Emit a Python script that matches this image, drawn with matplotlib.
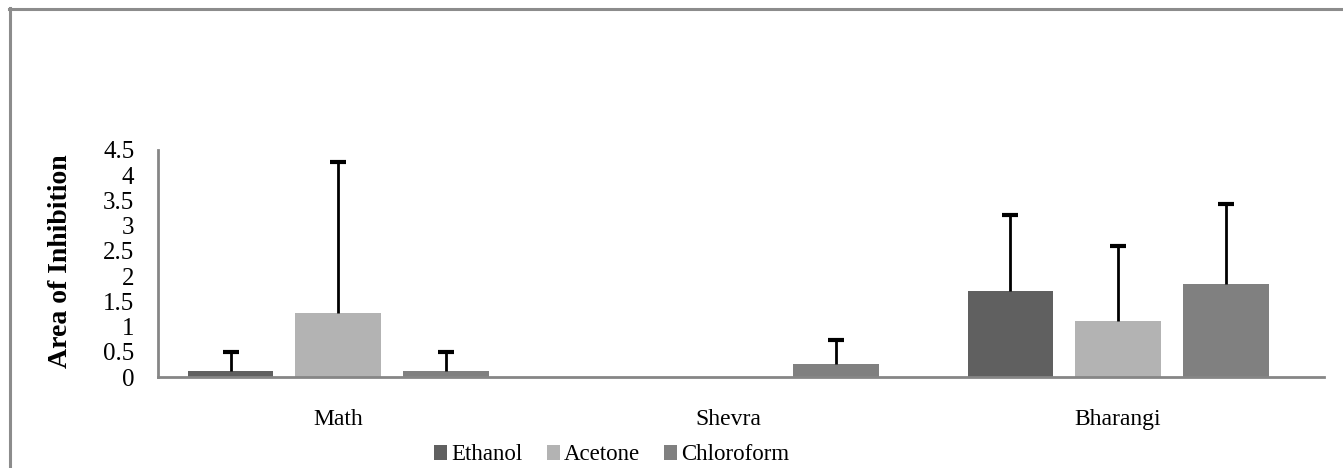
import numpy as np
import matplotlib
matplotlib.use('Agg')
import matplotlib.pyplot as plt
from matplotlib.lines import Line2D

# data
categories = ['Math', 'Shevra', 'Bharangi']
series = ['Ethanol', 'Acetone', 'Chloroform']
ethanol = [0.12, 0.0, 1.70]
acetone = [1.26, 0.0, 1.12]
chloroform = [0.12, 0.26, 1.84]
ethanol_err = [0.38, 0.0, 1.51]
acetone_err = [3.01, 0.0, 1.48]
chloroform_err = [0.38, 0.48, 1.59]

colors = ['#606060', '#b3b3b3', '#808080']
values = [ethanol, acetone, chloroform]
errors = [ethanol_err, acetone_err, chloroform_err]

plt.rcParams['font.family'] = ['Liberation Serif', 'DejaVu Serif']

fig = plt.figure(figsize=(13.43, 4.68), dpi=100)
ax = fig.add_axes([158 / 1343, 91 / 468, 1166 / 1343, 227 / 468])

x = np.arange(len(categories))
width = 0.22
step = 0.276
handles = []
for i, (vals, errs, col) in enumerate(zip(values, errors, colors)):
    pos = x + (i - 1) * step
    vals = np.array(vals)
    errs = np.array(errs)
    b = ax.bar(pos, vals, width, color=col, label=series[i], zorder=2)
    handles.append(b)
    # upper error bars only (no cap at the bar top)
    shown = errs > 0
    ax.vlines(pos[shown], vals[shown], vals[shown] + errs[shown], color='black', lw=2, zorder=3)
    ax.plot(pos[shown], vals[shown] + errs[shown], ls='none', marker='_', ms=11, mew=3,
            color='black', zorder=3)

ax.set_xlim(-0.462, 2.528)
ax.set_ylim(0, 4.5)
ax.set_yticks(np.arange(0, 4.51, 0.5))
ax.set_yticklabels(['0', '0.5', '1', '1.5', '2', '2.5', '3', '3.5', '4', '4.5'])
ax.set_xticks(x)
ax.set_xticklabels(categories)
ax.tick_params(axis='both', length=0)
ax.tick_params(axis='y', labelsize=18, pad=17)
ax.tick_params(axis='x', labelsize=17, pad=23)
for s in ['top', 'right']:
    ax.spines[s].set_visible(False)
for s in ['left', 'bottom']:
    ax.spines[s].set_color('#868686')
    ax.spines[s].set_linewidth(2)
ax.set_ylabel('Area of Inhibition', fontsize=20, fontweight='bold')
ax.yaxis.set_label_coords(-0.073, 0.51)

fig.legend(handles=handles, labels=series, loc='center', bbox_to_anchor=(612 / 1343, 13 / 468),
           ncol=3, frameon=False, fontsize=16.5, handlelength=0.55, handleheight=0.6,
           handletextpad=0.2, columnspacing=1.05, borderpad=0)

# frame around the picture (only top and left edges visible)
fig.add_artist(Line2D([9 / 1343, 1], [1 - 8.5 / 468, 1 - 8.5 / 468], color='#8c8c8c', lw=2.2))
fig.add_artist(Line2D([9.5 / 1343, 9.5 / 1343], [0, 1 - 8 / 468], color='#8c8c8c', lw=2.2))

fig.savefig('out.png', dpi=100)
